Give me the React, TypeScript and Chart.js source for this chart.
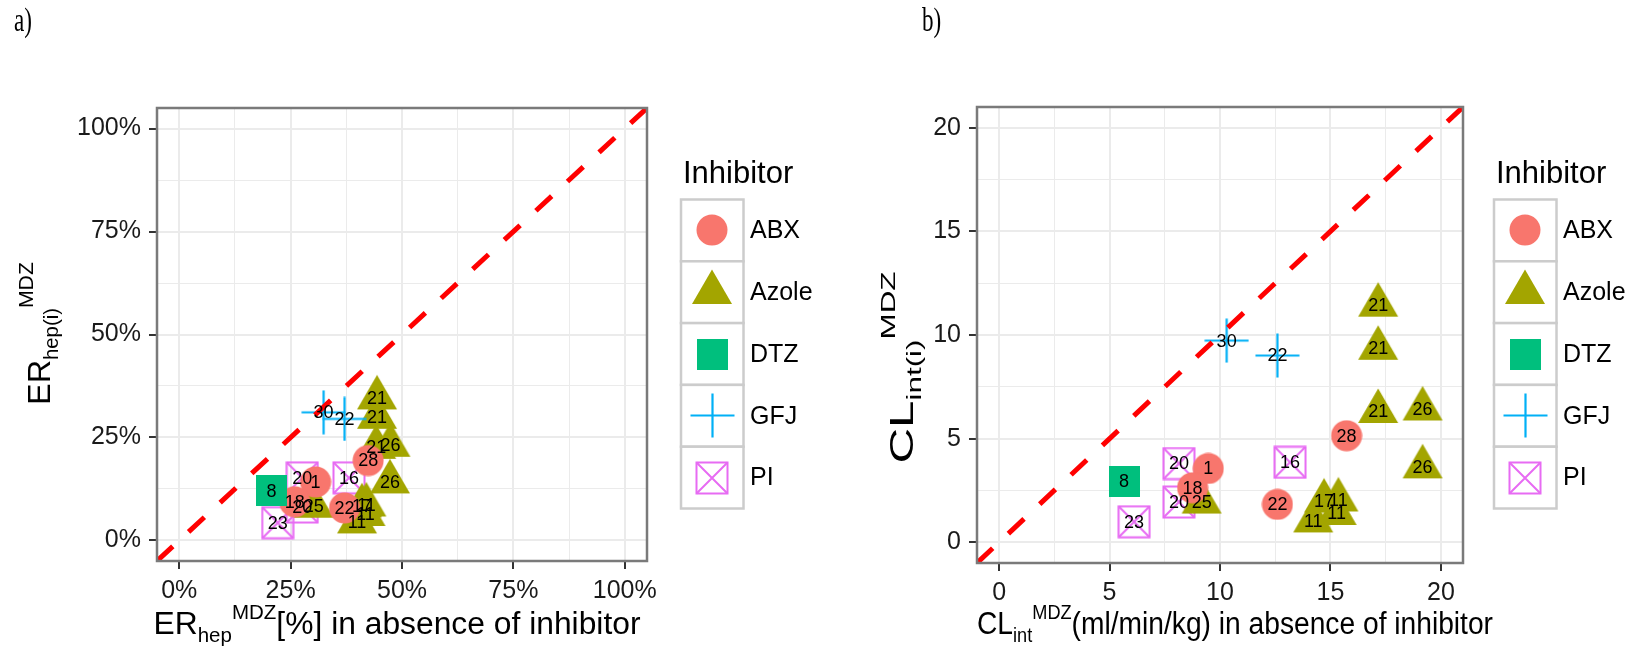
import React, { useEffect, useRef } from 'react';
import { Chart, registerables } from 'chart.js';

Chart.register(...registerables);

// ---------- data ----------
const inhibitorNames = ['ABX', 'Azole', 'DTZ', 'GFJ', 'PI'];
const inhibitorColors = ['#F8766D', '#A3A500', '#00BF7D', '#00B0F6', '#E76BF3'];
const legendTitle = 'Inhibitor';

const pointInhibitor = ['ABX', 'ABX', 'ABX', 'ABX', 'Azole', 'Azole', 'Azole', 'Azole', 'Azole', 'Azole', 'Azole', 'Azole', 'Azole', 'Azole', 'DTZ', 'GFJ', 'GFJ', 'PI', 'PI', 'PI', 'PI'];
const pointStudy = ['1', '18', '22', '28', '21', '21', '21', '26', '26', '25', '17', '11', '11', '11', '8', '30', '22', '20', '20', '16', '23'];
// hepatic extraction ratio (%) without / with inhibitor
const erBaseline = [30.6, 25.9, 37.1, 42.4, 44.4, 44.4, 44.2, 47.4, 47.3, 30.2, 41.0, 42.0, 41.8, 39.9, 20.7, 32.4, 37.1, 27.6, 27.6, 38.1, 22.1];
const erInhibited = [14.2, 9.4, 7.9, 19.4, 34.6, 29.9, 22.6, 23.1, 14.2, 8.3, 8.4, 8.6, 6.3, 4.5, 12.0, 31.1, 29.5, 15.2, 8.1, 15.2, 4.3];
// intrinsic clearance (ml/min/kg) without / with inhibitor
const clBaseline = [9.47, 8.76, 12.6, 15.73, 17.16, 17.16, 17.16, 19.17, 19.17, 9.17, 14.71, 15.36, 15.28, 14.22, 5.66, 10.3, 12.6, 8.14, 8.14, 13.17, 6.11];
const clInhibited = [3.56, 2.63, 1.83, 5.14, 11.44, 9.36, 6.31, 6.43, 3.64, 1.94, 1.99, 2.04, 1.39, 1.03, 2.95, 9.73, 9.01, 3.8, 1.94, 3.86, 0.99];

const erMajorTicks = [0, 25, 50, 75, 100];
const erMinorTicks = [12.5, 37.5, 62.5, 87.5];
const erTickLabels = ['0%', '25%', '50%', '75%', '100%'];
const clMajorTicks = [0, 5, 10, 15, 20];
const clMinorTicks = [2.5, 7.5, 12.5, 17.5];
const clTickLabels = ['0', '5', '10', '15', '20'];

const FONT = '"Liberation Sans", Arial, Helvetica, sans-serif';
const drawOrder = ['GFJ', 'DTZ', 'ABX', 'Azole', 'PI']; // first is drawn on top

type Seg = { text: string; size: number; dy: number };

function makeSymbol(kind: string, color: string): HTMLCanvasElement {
  const c = document.createElement('canvas');
  const ctx = c.getContext('2d')!;
  if (kind === 'ABX') {
    c.width = 32; c.height = 32;
    ctx.fillStyle = color;
    ctx.beginPath(); ctx.arc(16, 16, 15.5, 0, Math.PI * 2); ctx.fill();
  } else if (kind === 'Azole') {
    const xc = 40 / 2.694;
    const r = 1.555 * xc;
    const h = 1.347 * xc;
    c.width = 42; c.height = Math.ceil(2 * r) + 2;
    const cx = c.width / 2, cy = c.height / 2;
    ctx.fillStyle = color;
    ctx.beginPath();
    ctx.moveTo(cx, cy - r);
    ctx.lineTo(cx + h, cy + r / 2);
    ctx.lineTo(cx - h, cy + r / 2);
    ctx.closePath(); ctx.fill();
  } else if (kind === 'DTZ') {
    c.width = 31; c.height = 31;
    ctx.fillStyle = color; ctx.fillRect(0, 0, 31, 31);
  } else if (kind === 'GFJ') {
    c.width = 45; c.height = 45;
    ctx.strokeStyle = color; ctx.lineWidth = 2.2;
    ctx.beginPath();
    ctx.moveTo(0.5, 22.5); ctx.lineTo(44.5, 22.5);
    ctx.moveTo(22.5, 0.5); ctx.lineTo(22.5, 44.5);
    ctx.stroke();
  } else {
    c.width = 34; c.height = 34;
    ctx.strokeStyle = color; ctx.lineWidth = 2;
    ctx.strokeRect(1.5, 1.5, 31, 31);
    ctx.beginPath();
    ctx.moveTo(1.5, 1.5); ctx.lineTo(32.5, 32.5);
    ctx.moveTo(32.5, 1.5); ctx.lineTo(1.5, 32.5);
    ctx.stroke();
  }
  return c;
}

function drawRich(ctx: CanvasRenderingContext2D, segs: Seg[], targetW: number | null) {
  const widths = segs.map((s) => { ctx.font = `${s.size}px ${FONT}`; return ctx.measureText(s.text).width; });
  const W = widths.reduce((a, b) => a + b, 0);
  const sx = targetW ? targetW / W : 1;
  ctx.save();
  ctx.scale(sx, 1);
  let x = -W / 2;
  ctx.textAlign = 'left';
  ctx.textBaseline = 'alphabetic';
  segs.forEach((s, i) => {
    ctx.font = `${s.size}px ${FONT}`;
    ctx.fillText(s.text, x, s.dy);
    x += widths[i];
  });
  ctx.restore();
}

type PanelCfg = {
  canvasLeft: number; width: number; height: number;
  area: { left: number; right: number; top: number; bottom: number };
  min: number; max: number;
  major: number[]; minor: number[]; tickLabels: string[];
  xs: number[]; ys: number[];
  letter: string; letterX: number;
  xTitle: Seg[]; xTitleX: number; xTitleY: number; xTitleW: number | null;
  yTitle: Seg[]; yTitleX: number; yTitleY: number; yTitleW: number | null;
  legendTitleX: number; keyX: number; labelX: number;
};

const KEY_TOP = 199.5;
const KEY_H = 61.8;
const KEY_W = 62.5;

function Panel({ cfg }: { cfg: PanelCfg }) {
  const ref = useRef<HTMLCanvasElement>(null);
  useEffect(() => {
    const canvas = ref.current!;
    const symbols = inhibitorNames.map((n, i) => makeSymbol(n, inhibitorColors[i]));
    const isMajor = (v: number) => cfg.major.some((m) => Math.abs(m - v) < 1e-9);
    const allTicks = [...cfg.major, ...cfg.minor].sort((a, b) => a - b);

    const pointSets = drawOrder.map((name) => {
      const gi = inhibitorNames.indexOf(name);
      const idx = pointInhibitor.map((p, i) => (p === name ? i : -1)).filter((i) => i >= 0);
      return {
        type: 'scatter' as const,
        label: name,
        data: idx.map((i) => ({ x: cfg.xs[i], y: cfg.ys[i] })),
        studyLabels: idx.map((i) => pointStudy[i]),
        pointStyle: symbols[gi],
        pointRadius: 10,
        pointHoverRadius: 10,
        backgroundColor: inhibitorColors[gi],
        borderColor: inhibitorColors[gi],
        clip: false as const,
      };
    });

    const lineSet = {
      type: 'line' as const,
      label: 'identity',
      data: [{ x: cfg.min, y: cfg.min }, { x: cfg.max, y: cfg.max }],
      borderColor: '#FF0000',
      borderWidth: 5,
      borderDash: [21.5, 21.5],
      borderCapStyle: 'butt' as const,
      pointRadius: 0,
      fill: false,
      tension: 0,
      clip: 0,
    };

    const scaleCommon = (axis: 'x' | 'y') => ({
      type: 'linear' as const,
      min: cfg.min,
      max: cfg.max,
      afterBuildTicks: (s: any) => { s.ticks = allTicks.map((v) => ({ value: v })); },
      afterFit: (s: any) => {
        if (axis === 'x') s.height = cfg.height - cfg.area.bottom;
        else s.width = cfg.area.left;
      },
      border: { display: false },
      grid: {
        color: '#EBEBEB',
        lineWidth: (c: any) => (c.tick && isMajor(c.tick.value) ? 2 : 1),
        tickColor: (c: any) => (c.tick && isMajor(c.tick.value) ? '#333333' : 'rgba(0,0,0,0)'),
        tickLength: 8,
        tickWidth: 2,
        drawTicks: true,
      },
      ticks: {
        autoSkip: false,
        maxRotation: 0,
        minRotation: 0,
        padding: axis === 'x' ? 7 : 8,
        color: '#1a1a1a',
        font: { family: FONT, size: 25 },
        callback: (v: any) => {
          const k = cfg.major.findIndex((m) => Math.abs(m - Number(v)) < 1e-9);
          return k >= 0 ? cfg.tickLabels[k] : '';
        },
      },
    });

    const overlay = {
      id: 'overlay',
      afterDatasetsDraw(chart: any) {
        const ctx = chart.ctx as CanvasRenderingContext2D;
        ctx.save();
        ctx.font = `18px ${FONT}`;
        ctx.fillStyle = '#000';
        ctx.textAlign = 'center';
        ctx.textBaseline = 'middle';
        chart.data.datasets.forEach((ds: any, i: number) => {
          if (!ds.studyLabels) return;
          const meta = chart.getDatasetMeta(i);
          meta.data.forEach((el: any, j: number) => ctx.fillText(ds.studyLabels[j], el.x, el.y + 1));
        });
        ctx.restore();
      },
      afterDraw(chart: any) {
        const ctx = chart.ctx as CanvasRenderingContext2D;
        const a = chart.chartArea;
        ctx.save();
        // panel border
        ctx.strokeStyle = '#7a7a7a';
        ctx.lineWidth = 2.5;
        ctx.strokeRect(a.left, a.top, a.right - a.left, a.bottom - a.top);
        ctx.fillStyle = '#000';
        // panel letter
        ctx.save();
        ctx.font = `33px "Liberation Serif", "Times New Roman", serif`;
        ctx.textBaseline = 'alphabetic';
        ctx.translate(cfg.letterX, 31);
        ctx.scale(0.7, 1);
        ctx.fillText(cfg.letter, 0, 0);
        ctx.restore();
        // x title
        ctx.save();
        ctx.translate(cfg.xTitleX, cfg.xTitleY);
        drawRich(ctx, cfg.xTitle, cfg.xTitleW);
        ctx.restore();
        // y title
        ctx.save();
        ctx.translate(cfg.yTitleX, cfg.yTitleY);
        ctx.rotate(-Math.PI / 2);
        drawRich(ctx, cfg.yTitle, cfg.yTitleW);
        ctx.restore();
        // legend
        ctx.font = `31px ${FONT}`;
        ctx.textAlign = 'left';
        ctx.textBaseline = 'alphabetic';
        ctx.fillText(legendTitle, cfg.legendTitleX, 183);
        inhibitorNames.forEach((name, i) => {
          const top = KEY_TOP + i * KEY_H;
          ctx.fillStyle = '#ffffff';
          ctx.fillRect(cfg.keyX, top, KEY_W, KEY_H);
          ctx.strokeStyle = '#CCCCCC';
          ctx.lineWidth = 2.5;
          ctx.strokeRect(cfg.keyX, top, KEY_W, KEY_H);
          const sym = symbols[i];
          ctx.drawImage(sym, Math.round(cfg.keyX + KEY_W / 2 - sym.width / 2), Math.round(top + KEY_H / 2 - sym.height / 2));
          ctx.fillStyle = '#000';
          ctx.font = `25px ${FONT}`;
          ctx.textBaseline = 'middle';
          ctx.fillText(name, cfg.labelX, top + KEY_H / 2 + 1);
        });
        ctx.restore();
      },
    };

    const chart = new Chart(canvas, {
      type: 'scatter',
      data: { datasets: [lineSet as any, ...pointSets] },
      options: {
        responsive: false,
        animation: false,
        events: [],
        layout: {
          padding: { left: 0, top: cfg.area.top, right: cfg.width - cfg.area.right, bottom: 0 },
        },
        plugins: { legend: { display: false }, tooltip: { enabled: false }, title: { display: false } },
        scales: { x: scaleCommon('x') as any, y: scaleCommon('y') as any },
      },
      plugins: [overlay],
    });
    return () => chart.destroy();
  }, [cfg]);
  return (
    <canvas
      ref={ref}
      width={cfg.width}
      height={cfg.height}
      style={{ position: 'absolute', left: cfg.canvasLeft, top: 0, width: cfg.width, height: cfg.height }}
    />
  );
}

const leftCfg: PanelCfg = {
  canvasLeft: 0, width: 815, height: 653,
  area: { left: 157, right: 647, top: 108, bottom: 561 },
  min: -5, max: 105,
  major: erMajorTicks, minor: erMinorTicks, tickLabels: erTickLabels,
  xs: erBaseline, ys: erInhibited,
  letter: 'a)', letterX: 14,
  xTitle: [
    { text: 'ER', size: 31, dy: 0 },
    { text: 'hep', size: 20, dy: 8 },
    { text: 'MDZ', size: 20, dy: -15 },
    { text: '[%] in absence of inhibitor', size: 31, dy: 0 },
  ],
  xTitleX: 397, xTitleY: 634, xTitleW: 487,
  yTitle: [
    { text: 'ER', size: 32, dy: 0 },
    { text: 'hep(i)', size: 20, dy: 8 },
    { text: 'MDZ', size: 21, dy: -17 },
  ],
  yTitleX: 50, yTitleY: 333.5, yTitleW: 143,
  legendTitleX: 683, keyX: 681, labelX: 750,
};

const rightCfg: PanelCfg = {
  canvasLeft: 815, width: 814, height: 653,
  area: { left: 162, right: 648, top: 107, bottom: 563 },
  min: -1, max: 21,
  major: clMajorTicks, minor: clMinorTicks, tickLabels: clTickLabels,
  xs: clBaseline, ys: clInhibited,
  letter: 'b)', letterX: 107,
  xTitle: [
    { text: 'CL', size: 31, dy: 0 },
    { text: 'int', size: 20, dy: 8 },
    { text: 'MDZ', size: 20, dy: -15 },
    { text: '(ml/min/kg) in absence of inhibitor', size: 31, dy: 0 },
  ],
  xTitleX: 420, xTitleY: 634, xTitleW: 516,
  yTitle: [
    { text: 'CL', size: 33, dy: 0 },
    { text: 'int(i)', size: 21, dy: 8 },
    { text: 'MDZ', size: 21, dy: -18 },
  ],
  yTitleX: 98, yTitleY: 367.5, yTitleW: 192,
  legendTitleX: 681, keyX: 679, labelX: 748,
};

export default function App() {
  return (
    <div style={{ position: 'absolute', left: 0, top: 0, width: 1629, height: 653, background: '#ffffff', overflow: 'hidden' }}>
      <Panel cfg={leftCfg} />
      <Panel cfg={rightCfg} />
    </div>
  );
}
